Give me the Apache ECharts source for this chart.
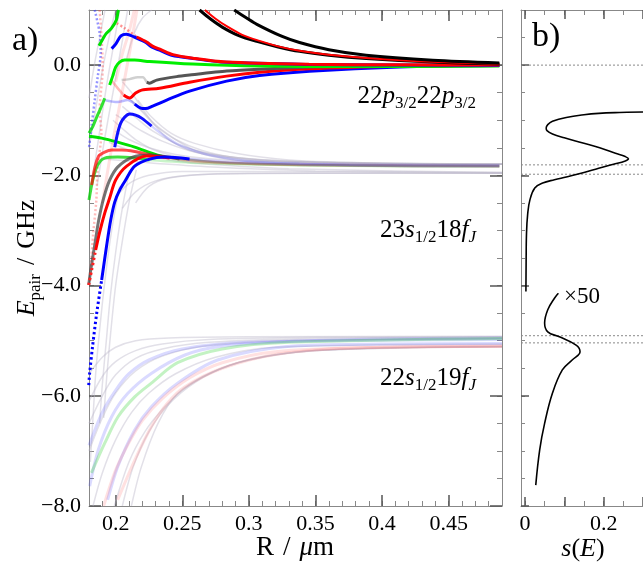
<!DOCTYPE html>
<html>
<head>
<meta charset="utf-8">
<script src="https://cdn.jsdelivr.net/npm/echarts@6/dist/echarts.min.js"></script>
<style>
  html, body { margin: 0; padding: 0; background: #fff; }
  #chart { width: 643px; height: 569px; }
</style>
</head>
<body>
<div id="chart"></div>
<script>
// ---- panel a) : pair potentials, [R (um), E (GHz)] ----
const blackA = [[0.289,1.0],[0.298,0.86],[0.306,0.74],[0.325,0.52],[0.338,0.41],[0.36,0.28],[0.388,0.18],[0.438,0.09],[0.488,0.04]];
const blackB = [[0.263,1.0],[0.271,0.84],[0.28,0.69],[0.292,0.54],[0.306,0.43],[0.322,0.33],[0.338,0.25],[0.36,0.18],[0.388,0.12],[0.438,0.055],[0.488,0.02]];
const redC = [[0.267,1.0],[0.275,0.84],[0.283,0.71],[0.295,0.55],[0.308,0.44],[0.322,0.34],[0.338,0.26],[0.36,0.19],[0.388,0.13],[0.438,0.06],[0.488,0.025]];

const blue1 = [[0.197,0.3],[0.2,0.38],[0.204,0.53],[0.208,0.56],[0.214,0.51],[0.222,0.42],[0.227,0.33],[0.233,0.27],[0.242,0.18],[0.258,0.12],[0.283,0.05],[0.345,0.012],[0.413,0.003],[0.488,-0.005]];
const red1Faint = [[0.2008,0.76],[0.2068,0.67],[0.2158,0.51]];
const red1 = [[0.2158,0.51],[0.2233,0.42],[0.228,0.34],[0.234,0.28],[0.243,0.19],[0.258,0.125],[0.283,0.055],[0.345,0.015],[0.413,0.005],[0.488,0.0]];
const green1 = [[0.1955,-0.36],[0.1978,-0.2],[0.2,-0.036],[0.203,0.054],[0.2068,0.091],[0.2143,0.091],[0.2255,0.064],[0.2578,0.018],[0.308,-0.018],[0.3755,-0.027],[0.488,-0.018]];
const greenTop = [[0.1875,0.35],[0.1905,0.48],[0.193,0.575],[0.1968,0.666],[0.2005,0.816],[0.2018,0.967],[0.2022,1.0]];
const grayFaintTop = [[0.2045,-0.272],[0.2105,-0.254],[0.2165,-0.218],[0.2203,-0.218],[0.2233,-0.308]];
const gray1 = [[0.2233,-0.308],[0.2255,-0.327],[0.2308,-0.272],[0.2458,-0.209],[0.2555,-0.181],[0.2833,-0.109],[0.308,-0.073],[0.3455,-0.036],[0.413,-0.009],[0.488,0.0]];
const red2Faint = [[0.197,-0.28],[0.2015,-0.417],[0.206,-0.544]];
const red2 = [[0.206,-0.544],[0.2105,-0.599],[0.215,-0.508],[0.2195,-0.454],[0.233,-0.42],[0.2555,-0.31],[0.2833,-0.2],[0.308,-0.13],[0.3455,-0.065],[0.413,-0.02],[0.488,0.0]];
const blue2Faint = [[0.1918,-0.635],[0.2015,-0.671],[0.209,-0.635],[0.2143,-0.707]];
const blue2 = [[0.2143,-0.707],[0.2188,-0.78],[0.2225,-0.789],[0.2278,-0.744],[0.2383,-0.635],[0.2555,-0.472],[0.2833,-0.29],[0.308,-0.19],[0.3455,-0.11],[0.413,-0.036],[0.488,-0.009]];
const blue3 = [[0.1993,-1.49],[0.2015,-1.234],[0.2038,-1.053],[0.2068,-0.944],[0.2105,-0.889],[0.215,-0.907],[0.2195,-0.962],[0.227,-1.107]];
const blue3Faint = [[0.227,-1.107],[0.2368,-1.289],[0.248,-1.452],[0.2705,-1.633],[0.308,-1.76],[0.3755,-1.815],[0.488,-1.83]];

const greenDiag = [[0.18,-1.289],[0.1895,-1.325],[0.2015,-1.398],[0.2143,-1.488],[0.227,-1.597],[0.2368,-1.67]];
const greenDiagFaint = [[0.2368,-1.67],[0.2555,-1.724],[0.2855,-1.779],[0.338,-1.815],[0.413,-1.833],[0.488,-1.833]];
const greenUp = [[0.18,-1.234],[0.183,-1.107],[0.1858,-0.944],[0.1888,-0.78],[0.1918,-0.6]];
const redPeak = [[0.182,-2.177],[0.1843,-1.869],[0.1873,-1.651],[0.1918,-1.578],[0.197,-1.542],[0.2045,-1.542],[0.2143,-1.569],[0.227,-1.633],[0.239,-1.678]];
const redPeakFaint = [[0.239,-1.678],[0.263,-1.742],[0.308,-1.796],[0.3755,-1.823],[0.488,-1.832]];
const grayLow = [[0.1798,-3.991],[0.1813,-3.719],[0.1843,-3.265],[0.1873,-2.812],[0.191,-2.413],[0.1955,-2.086],[0.2015,-1.85],[0.2128,-1.669],[0.2255,-1.633],[0.248,-1.705]];
const grayLowFaint = [[0.248,-1.705],[0.2855,-1.778],[0.3755,-1.823],[0.488,-1.841]];
const redLow = [[0.185,-3.356],[0.188,-3.029],[0.1918,-2.685],[0.1955,-2.413],[0.2,-2.086],[0.2083,-1.832],[0.2233,-1.651],[0.2405,-1.687]];
const redLowDot = [[0.1798,-3.991],[0.182,-3.719],[0.185,-3.356]];
const redLowFaint = [[0.2405,-1.687],[0.263,-1.76],[0.308,-1.796],[0.3755,-1.814],[0.488,-1.832]];
const blueLow = [[0.1895,-3.9],[0.1933,-3.265],[0.1963,-2.812],[0.1993,-2.485],[0.203,-2.268],[0.2075,-2.086],[0.2143,-1.832],[0.2255,-1.705],[0.2368,-1.669],[0.2555,-1.705]];
const blueLowDot = [[0.1798,-5.805],[0.1805,-5.587],[0.1828,-5.079],[0.1858,-4.499],[0.1895,-3.9]];
const blueLowFaint = [[0.2555,-1.705],[0.2855,-1.76],[0.338,-1.796],[0.413,-1.814],[0.488,-1.823]];
const greenLow = [[0.18,-2.449],[0.1828,-2.086],[0.1865,-1.814],[0.1918,-1.687],[0.2015,-1.669],[0.2143,-1.687],[0.2255,-1.723]];
const greenLowFaint = [[0.2255,-1.723],[0.263,-1.778],[0.338,-1.814],[0.488,-1.832]];
const blueDotTop = [[0.1843,1.0],[0.188,0.58],[0.1888,0.22],[0.1865,-0.22],[0.1843,-0.635],[0.182,-1.1],[0.18,-1.5]];
const redDot = [[0.188,1.0],[0.1903,-0.04],[0.188,-0.82],[0.1893,-1.23],[0.1865,-1.85],[0.1855,-2.45],[0.183,-3.1],[0.181,-3.8]];

// faint background states
const faintGray = [
  // near 23s18f
  [[0.2,-0.9],[0.21,-1.05],[0.22,-1.2],[0.235,-1.38],[0.255,-1.55],[0.28,-1.67],[0.32,-1.75],[0.4,-1.79],[0.49,-1.8]],
  [[0.205,-0.75],[0.215,-0.95],[0.228,-1.2],[0.245,-1.42],[0.265,-1.58],[0.3,-1.7],[0.35,-1.76],[0.49,-1.8]],
  [[0.2,-1.2],[0.21,-1.35],[0.225,-1.5],[0.245,-1.62],[0.27,-1.7],[0.32,-1.76],[0.49,-1.8]],
  [[0.21,-0.6],[0.22,-0.85],[0.23,-1.1],[0.245,-1.35],[0.265,-1.55],[0.29,-1.68],[0.34,-1.76],[0.49,-1.8]],
  [[0.195,-1.4],[0.205,-1.5],[0.22,-1.62],[0.24,-1.72],[0.27,-1.8],[0.33,-1.88],[0.49,-1.95]],
  [[0.2,-2.4],[0.21,-2.15],[0.225,-2.0],[0.25,-1.93],[0.3,-1.93],[0.49,-1.96]],
  [[0.205,-2.6],[0.215,-2.3],[0.23,-2.1],[0.255,-2.0],[0.3,-1.96],[0.49,-1.96]],
  [[0.215,-2.5],[0.225,-2.2],[0.24,-2.05],[0.27,-1.98],[0.35,-1.96],[0.49,-1.96]],
  [[0.198,-1.0],[0.205,-1.15],[0.215,-1.35],[0.23,-1.55],[0.25,-1.68],[0.28,-1.76],[0.35,-1.8],[0.49,-1.8]],
  [[0.19,-1.7],[0.2,-1.72],[0.215,-1.75],[0.24,-1.8],[0.28,-1.86],[0.35,-1.92],[0.49,-1.95]],
  [[0.2118,-0.635],[0.2193,-0.816],[0.2318,-1.12],[0.2593,-1.54],[0.3,-1.7],[0.38,-1.78],[0.49,-1.8]],
  [[0.2168,-0.635],[0.2268,-0.938],[0.2418,-1.239],[0.2593,-1.42],[0.29,-1.6],[0.33,-1.72],[0.4,-1.78],[0.49,-1.8]],
  [[0.205,-0.3],[0.212,-0.5],[0.219,-0.75],[0.228,-1.05],[0.24,-1.35],[0.26,-1.58],[0.3,-1.74],[0.49,-1.8]],
  // steep ones
  [[0.2105,-1.9],[0.205,-2.6],[0.2,-3.4],[0.196,-4.2],[0.193,-5.0],[0.19,-5.8],[0.188,-6.5]],
  [[0.2155,-1.9],[0.21,-2.5],[0.205,-3.2],[0.2,-4.0],[0.1965,-4.8],[0.1935,-5.6],[0.191,-6.4]],
  [[0.203,-2.2],[0.197,-3.0],[0.192,-3.9],[0.188,-4.8],[0.185,-5.6],[0.183,-6.4],[0.181,-7.2]],
  [[0.18,-1.5],[0.185,-0.8],[0.19,-0.1],[0.195,0.5],[0.2,1.0]],
  [[0.183,-2.0],[0.188,-1.2],[0.193,-0.4],[0.198,0.3],[0.203,1.0]],
  [[0.18,-0.6],[0.184,0.0],[0.188,0.5],[0.192,1.0]],
  [[0.186,-2.2],[0.192,-1.3],[0.198,-0.5],[0.204,0.3],[0.209,1.0]],
  [[0.208,0.1],[0.214,0.58],[0.22,0.85],[0.227,1.0]],
  // near 22s19f
  [[0.18,-5.6],[0.19,-5.3],[0.2,-5.12],[0.215,-5.0],[0.24,-4.95],[0.3,-4.93],[0.49,-4.92]],
  [[0.18,-6.1],[0.19,-5.65],[0.2,-5.38],[0.215,-5.18],[0.235,-5.06],[0.27,-4.98],[0.35,-4.94],[0.49,-4.93]],
  [[0.18,-6.5],[0.19,-6.0],[0.2,-5.62],[0.215,-5.32],[0.235,-5.15],[0.27,-5.03],[0.35,-4.96],[0.49,-4.94]],
  [[0.18,-7.0],[0.19,-6.4],[0.2,-5.95],[0.215,-5.55],[0.235,-5.28],[0.265,-5.1],[0.32,-5.0],[0.49,-4.96]],
  [[0.183,-8.0],[0.19,-7.4],[0.2,-6.8],[0.212,-6.3],[0.225,-5.95],[0.245,-5.6],[0.275,-5.3],[0.32,-5.12],[0.49,-5.06]],
  [[0.199,-8.0],[0.21,-7.2],[0.222,-6.65],[0.235,-6.25],[0.25,-5.9],[0.27,-5.6],[0.3,-5.35],[0.35,-5.18],[0.49,-5.1]],
  [[0.2118,-8.0],[0.2193,-7.29],[0.2318,-6.5],[0.2465,-5.96],[0.27,-5.6],[0.3,-5.35],[0.35,-5.18],[0.49,-5.11]],
  [[0.205,-8.0],[0.213,-7.3],[0.225,-6.65],[0.24,-6.15],[0.26,-5.75],[0.285,-5.45],[0.32,-5.25],[0.38,-5.14],[0.49,-5.11]]
];
const faintBlue = [
  [[0.1805,-7.64],[0.187,-6.98],[0.197,-6.38],[0.209,-5.96],[0.227,-5.59],[0.252,-5.26],[0.277,-5.11],[0.327,-5.02],[0.4,-4.97],[0.49,-4.95]],
  [[0.194,-7.89],[0.2015,-7.29],[0.2143,-6.62],[0.2268,-6.2],[0.2465,-5.77],[0.2765,-5.35],[0.3268,-5.11],[0.4,-5.06],[0.49,-5.05]],
  [[0.18,-6.9],[0.19,-6.3],[0.2,-5.9],[0.21,-5.6],[0.225,-5.35],[0.25,-5.15],[0.3,-5.03],[0.49,-4.98]]
];
const faintRed = [
  [[0.2015,-7.89],[0.2143,-7.17],[0.2268,-6.56],[0.239,-6.13],[0.2518,-5.84],[0.28,-5.5],[0.32,-5.25],[0.38,-5.13],[0.49,-5.1]],
  [[0.191,-8.0],[0.2,-7.35],[0.21,-6.85],[0.22,-6.45],[0.235,-6.05],[0.255,-5.68],[0.28,-5.4],[0.32,-5.2],[0.4,-5.12],[0.49,-5.1]],
  [[0.19,-2.5],[0.197,-1.5],[0.204,-0.6],[0.211,0.3],[0.216,1.0]],
  [[0.2,-0.3],[0.205,0.2],[0.21,0.6],[0.214,1.0]]
];
const faintGreen = [
  [[0.1818,-7.4],[0.1918,-6.86],[0.2018,-6.38],[0.2143,-6.02],[0.2268,-5.77],[0.2465,-5.4],[0.28,-5.15],[0.33,-5.03],[0.49,-4.96]]
];

// ---- panel b) : s(E), [s, E] ----
const sUpper = [[0.0025,-4.11],[0.003,-3.6],[0.004,-3.05],[0.007,-2.7],[0.0125,-2.45],[0.025,-2.23],[0.045,-2.14],[0.075,-2.08],[0.105,-2.03],[0.15,-1.95],[0.1875,-1.87],[0.225,-1.8],[0.255,-1.74],[0.263,-1.7],[0.255,-1.66],[0.23,-1.6],[0.19,-1.5],[0.145,-1.41],[0.1,-1.32],[0.07,-1.25],[0.056,-1.19],[0.054,-1.14],[0.058,-1.08],[0.07,-1.02],[0.105,-0.95],[0.15,-0.9],[0.1875,-0.875],[0.24,-0.86],[0.3,-0.85]];
const sLower50 = [[0.0275,-7.62],[0.0375,-6.98],[0.05,-6.5],[0.07,-5.95],[0.095,-5.53],[0.12,-5.35],[0.14,-5.2],[0.13,-5.08],[0.0875,-4.93],[0.058,-4.84],[0.05,-4.68],[0.058,-4.44],[0.075,-4.23],[0.085,-4.14]];
const sLevels = [0, -1.81, -1.98, -4.91, -5.04];

// ticks
const xMajorA = [0.2, 0.25, 0.3, 0.35, 0.4, 0.45];
const yMajor = [-8, -6, -4, -2, 0];
const xMinorB = [0, 0.05, 0.1, 0.15, 0.2, 0.25, 0.3];
const xMajorB = [0, 0.1, 0.2, 0.3];
const xLabelsB = [0, 0.2];

const SERIF = "'Liberation Serif', 'DejaVu Serif', serif";
const chart = echarts.init(document.getElementById('chart'));

function ln(data, color, width, extra) {
  return Object.assign({
    type: 'line', xAxisIndex: 0, yAxisIndex: 0, data: data,
    symbol: 'none', smooth: 0.3, silent: true,
    lineStyle: { color: color, width: width }
  }, extra || {});
}
function dotted(data, color, width) {
  return ln(data, color, width, { lineStyle: { color: color, width: width, type: [width * 0.8, width * 0.9] } });
}

function axis(gridIndex, pos, min, max, o) {
  return {
    type: 'value', gridIndex: gridIndex, position: pos, min: min, max: max,
    interval: o.interval,
    splitLine: { show: false },
    axisLine: { show: !!o.line, onZero: false, lineStyle: { color: '#888', width: 1 } },
    axisTick: { show: true, inside: true, length: o.len, customValues: o.ticks,
      lineStyle: { color: o.major ? '#555' : '#888', width: o.major ? 1.5 : 1 } },
    axisLabel: o.labels ? {
      show: true, customValues: o.labels, formatter: o.fmt, color: '#000',
      fontFamily: SERIF, fontSize: 22, margin: o.margin || 8
    } : { show: false }
  };
}
const fmtY = v => (v < 0 ? '\u2212' : '') + Math.abs(v).toFixed(1);
const fmtX = v => String(+v.toFixed(2));

const series = [];
faintGray.forEach(d => series.push(ln(d, 'rgba(185,180,200,0.42)', 1.5)));
faintBlue.forEach(d => series.push(ln(d, 'rgba(70,70,255,0.2)', 3)));
faintRed.forEach(d => series.push(ln(d, 'rgba(255,90,90,0.18)', 3)));
faintGreen.forEach(d => series.push(ln(d, 'rgba(40,210,40,0.28)', 3)));

[greenDiagFaint, greenLowFaint].forEach(d => series.push(ln(d, 'rgba(40,210,40,0.25)', 2.5)));
[redPeakFaint, redLowFaint].forEach(d => series.push(ln(d, 'rgba(255,60,60,0.22)', 2.5)));
[blue3Faint, blueLowFaint].forEach(d => series.push(ln(d, 'rgba(60,60,255,0.22)', 2.5)));
series.push(ln(grayLowFaint, 'rgba(90,90,90,0.25)', 2.5));
series.push(ln(grayFaintTop, 'rgba(120,120,120,0.35)', 2.5));
series.push(ln(red2Faint, 'rgba(255,60,60,0.35)', 2.5));
series.push(ln(blue2Faint, 'rgba(60,60,255,0.35)', 2.5));
series.push(dotted(red1Faint, 'rgba(255,40,40,0.5)', 2.5));
series.push(dotted(blueDotTop, 'rgba(40,40,255,0.5)', 2.5));
series.push(dotted(redDot, 'rgba(255,60,60,0.35)', 2.5));

series.push(ln(greenUp, 'rgba(0,220,0,0.8)', 3));
series.push(ln(greenTop, '#00e000', 3));
series.push(ln(greenDiag, '#00e000', 3));
series.push(ln(greenLow, 'rgba(0,210,0,0.75)', 3));
series.push(ln(redPeak, 'rgba(255,0,0,0.7)', 3));
series.push(ln(grayLow, 'rgba(70,70,70,0.75)', 3));
series.push(ln(redLow, '#ff0000', 3));
series.push(dotted(redLowDot, '#ff2020', 3));
series.push(ln(blueLow, '#0000ff', 3));
series.push(dotted(blueLowDot, '#0000ff', 3));
series.push(ln(blue3, '#1010ff', 3));
series.push(ln(blue2, '#0000ff', 3));
series.push(ln(red2, '#ff0000', 3));
series.push(ln(gray1, '#555555', 3, { smooth: 0.2 }));
series.push(ln(green1, '#00ee00', 3));
series.push(ln(blue1, '#0000ff', 3));
series.push(ln(red1, '#ff0000', 3));
series.push(ln(blackB, '#000000', 3));
series.push(ln(redC, '#ff0000', 2));
series.push(ln(blackA, '#000000', 3));

// panel b)
sLevels.forEach(lv => series.push(ln([[-0.01, lv], [0.3, lv]], '#888', 1,
  { xAxisIndex: 4, yAxisIndex: 4, smooth: false, lineStyle: { color: '#888', width: 1, type: [2, 2] } })));
series.push(ln(sUpper, '#000', 1.6, { xAxisIndex: 4, yAxisIndex: 4, smooth: 0.4 }));
series.push(ln(sLower50, '#000', 1.6, { xAxisIndex: 4, yAxisIndex: 4, smooth: 0.4 }));

function mkRich(big, small) {
  return {
    n: { fontFamily: SERIF, fontSize: big, color: '#000', verticalAlign: 'middle', lineHeight: big + 8 },
    i: { fontFamily: SERIF, fontSize: big, fontStyle: 'italic', color: '#000', verticalAlign: 'middle', lineHeight: big + 8 },
    g: { fontFamily: SERIF, fontSize: big, color: '#000', verticalAlign: 'middle', lineHeight: big + 8, padding: [0, 9, 0, 9] },
    s: { fontFamily: SERIF, fontSize: small, color: '#000', verticalAlign: 'bottom', lineHeight: big + 8 },
    si: { fontFamily: SERIF, fontSize: small, fontStyle: 'italic', color: '#000', verticalAlign: 'bottom', lineHeight: big + 8 }
  };
}
function label(x, y, text, align, big, small, rot) {
  return { type: 'text', x: x, y: y, rotation: rot || 0, silent: true,
    style: { text: text, rich: mkRich(big, small), align: align, textAlign: align, verticalAlign: 'middle', textVerticalAlign: 'middle' } };
}

chart.setOption({
  animation: false,
  backgroundColor: '#fff',
  grid: [
    { left: 89, top: 10, width: 413, height: 496 },
    { left: 521, top: 10, width: 124, height: 496 }
  ],
  xAxis: [
    axis(0, 'bottom', 0.18, 0.49, { interval: 0.01, len: 5, line: true }),
    axis(0, 'bottom', 0.18, 0.49, { ticks: xMajorA, len: 11, major: true, labels: xMajorA, fmt: fmtX, margin: 7 }),
    axis(0, 'top', 0.18, 0.49, { interval: 0.01, len: 5, line: true }),
    axis(0, 'top', 0.18, 0.49, { ticks: xMajorA, len: 11, major: true }),
    axis(1, 'bottom', -0.01, 0.3, { ticks: xMinorB, len: 5, line: true }),
    axis(1, 'bottom', -0.01, 0.3, { ticks: xMajorB, len: 9, major: true, labels: xLabelsB, fmt: v => String(+v.toFixed(1)), margin: 7 }),
    axis(1, 'top', -0.01, 0.3, { ticks: xMinorB, len: 5, line: true }),
    axis(1, 'top', -0.01, 0.3, { ticks: xMajorB, len: 9, major: true })
  ],
  yAxis: [
    axis(0, 'left', -8, 1, { interval: 0.5, len: 5, line: true }),
    axis(0, 'left', -8, 1, { ticks: yMajor, len: 12, major: true, labels: yMajor, fmt: fmtY, margin: 8 }),
    axis(0, 'right', -8, 1, { interval: 0.5, len: 5, line: true }),
    axis(0, 'right', -8, 1, { ticks: yMajor, len: 12, major: true }),
    axis(1, 'left', -8, 1, { interval: 0.5, len: 4, line: true }),
    axis(1, 'left', -8, 1, { ticks: yMajor, len: 8, major: true })
  ],
  series: series,
  graphic: [
    { type: 'text', left: 12, top: 24, silent: true, style: { text: 'a)', font: '34px ' + SERIF, fill: '#000' } },
    { type: 'text', left: 532, top: 20, silent: true, style: { text: 'b)', font: '34px ' + SERIF, fill: '#000' } },
    label(27, 258, '{i|E}{s|pair}{g|/}{n|GHz}', 'center', 26, 17, Math.PI / 2),
    label(295, 548, '{n|R}{g|/}{i|\u03bc}{n|m}', 'center', 27, 17),
    label(583, 549, '{i|s}{n|(}{i|E}{n|)}', 'center', 26, 17),
    { type: 'text', x: 564, y: 297, silent: true,
      style: { text: '\u00d750', font: '23px ' + SERIF, fill: '#000', verticalAlign: 'middle', textVerticalAlign: 'middle' } },
    label(476, 96, '{n|22}{i|p}{s|3/2}{n|22}{i|p}{s|3/2}', 'right', 25, 17),
    label(476, 230, '{n|23}{i|s}{s|1/2}{n|18}{i|f}{si|J}', 'right', 25, 17),
    label(476, 378, '{n|22}{i|s}{s|1/2}{n|19}{i|f}{si|J}', 'right', 25, 17)
  ]
});
</script>
</body>
</html>
